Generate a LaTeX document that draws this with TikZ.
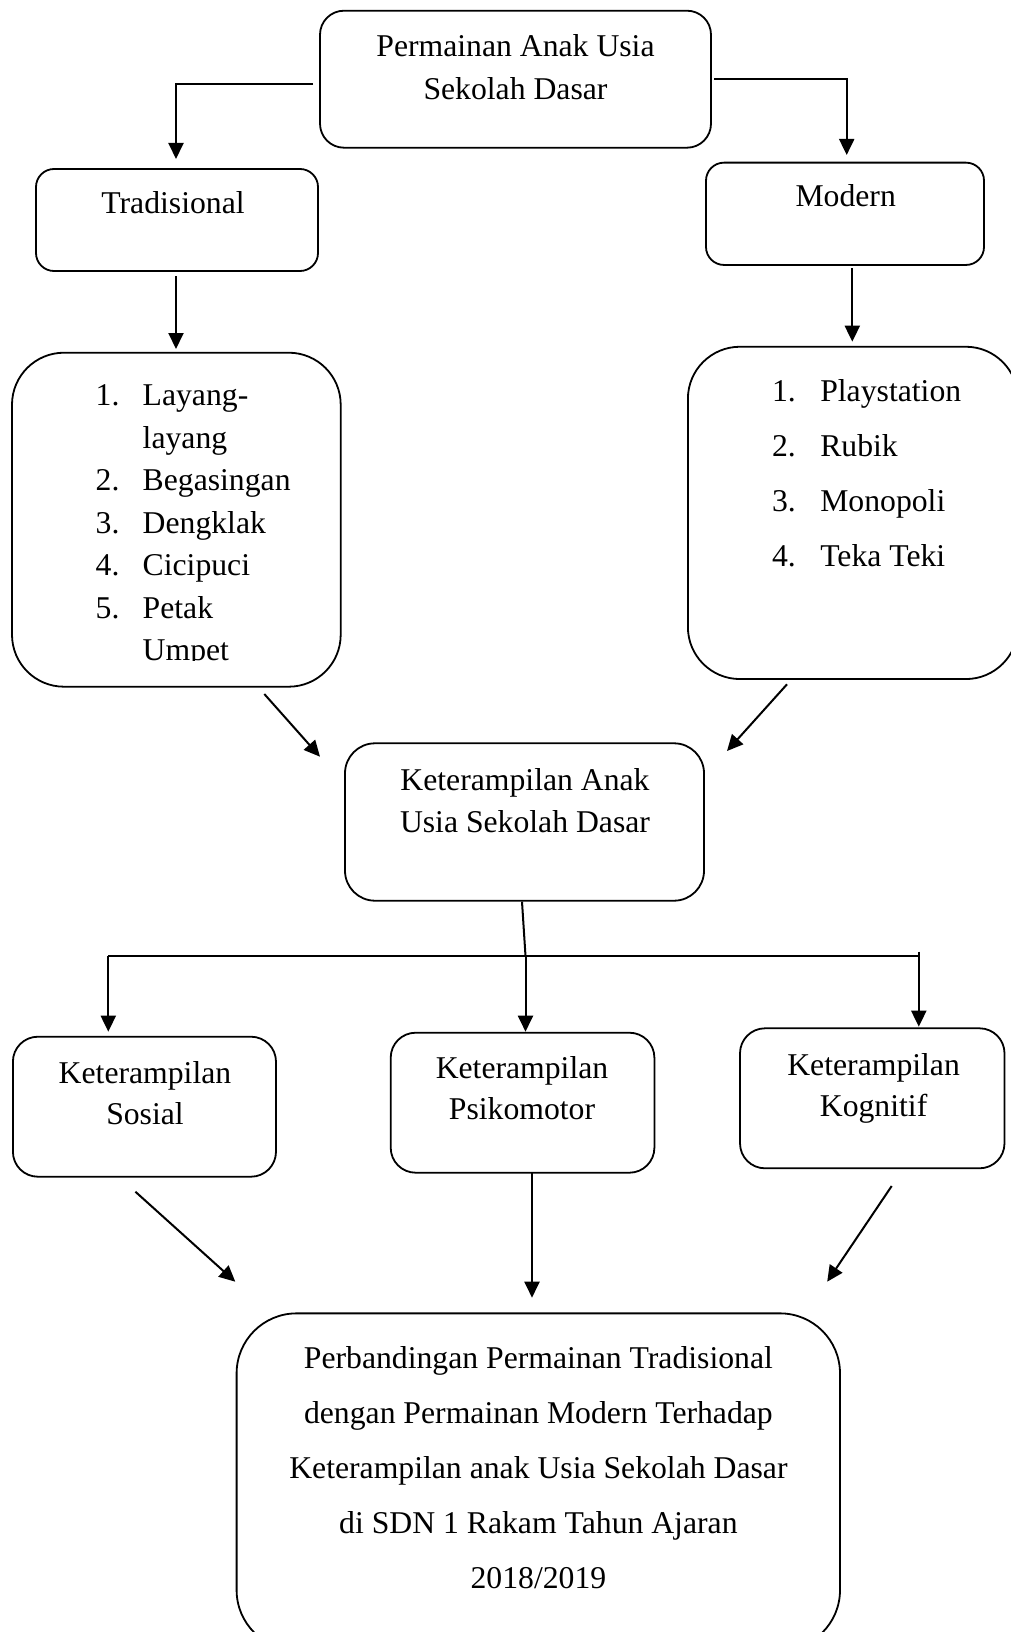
\documentclass[tikz,border=0pt]{standalone}
\usepackage{fontspec}
\setmainfont{Liberation Serif}
\usetikzlibrary{arrows.meta}
\tikzset{
  box/.style={draw=black, line width=1.8pt, rectangle, inner sep=0pt, outer sep=0pt},
  conn/.style={draw=black, line width=2pt, -{Triangle[length=16pt,width=15pt]}},
  plainline/.style={draw=black, line width=2pt},
  txt/.style={inner sep=0pt, outer sep=0pt, anchor=base, font=\fontsize{31.7}{42.5}\selectfont},
  txtw/.style={txt, anchor=base west},
}
\begin{document}
\begin{tikzpicture}[x=1pt, y=-1pt]
\useasboundingbox[fill=white] (0,0) rectangle (1011,1632);

% boxes
\node[box, minimum width=391pt, minimum height=137pt, rounded corners=24pt] (top) at (515.5,79.2) {};
\node[box, minimum width=282pt, minimum height=102pt, rounded corners=18pt] (trad) at (177,220) {};
\node[box, minimum width=278pt, minimum height=102.3pt, rounded corners=18pt] (mod) at (845,213.8) {};
\node[box, minimum width=328.7pt, minimum height=334pt, rounded corners=52pt] (llist) at (176.35,519.7) {};
\node[box, minimum width=330pt, minimum height=332.3pt, rounded corners=52pt] (rlist) at (852.9,512.9) {};
\node[box, minimum width=359pt, minimum height=157.4pt, rounded corners=30pt] (mid) at (524.5,822) {};
\node[box, minimum width=263.1pt, minimum height=140pt, rounded corners=25pt] (sos) at (144.45,1106.7) {};
\node[box, minimum width=263.7pt, minimum height=140pt, rounded corners=25pt] (psi) at (522.55,1102.7) {};
\node[box, minimum width=264.5pt, minimum height=140pt, rounded corners=25pt] (kog) at (872.25,1098.3) {};
\node[box, minimum width=603.4pt, minimum height=336.7pt, rounded corners=60pt] (fin) at (538.3,1481.7) {};

% texts
\node[txt] (toptxt) at (515.5,56.7) {\begin{tabular}[t]{@{}c@{}}Permainan Anak Usia\\Sekolah Dasar\end{tabular}};
\node[txt] (tradtxt) at (173,213) {Tradisional};
\node[txt] (modtxt) at (845.7,207) {Modern};
\begin{scope}
\clip (0,340) rectangle (500,660);
\node[txtw] (lnum) at (95.7,405.7) {\begin{tabular}[t]{@{}l@{}}1.\\ \\2.\\3.\\4.\\5.\\ \end{tabular}};
\node[txtw] (litems) at (142.7,405.7) {\begin{tabular}[t]{@{}l@{}}Layang-\\layang\\Begasingan\\Dengklak\\Cicipuci\\Petak\\Umpet\end{tabular}};
\end{scope}
\node[txtw, font=\fontsize{31.7}{55.2}\selectfont] (rnum) at (772,401) {\begin{tabular}[t]{@{}l@{}}1.\\2.\\3.\\4.\end{tabular}};
\node[txtw, font=\fontsize{31.7}{55.2}\selectfont] (ritems) at (820.3,401) {\begin{tabular}[t]{@{}l@{}}Playstation\\Rubik\\Monopoli\\Teka Teki\end{tabular}};
\node[txt] (midtxt) at (525,790) {\begin{tabular}[t]{@{}c@{}}Keterampilan Anak\\Usia Sekolah Dasar\end{tabular}};
\node[txt, font=\fontsize{31.7}{41.5}\selectfont] (sostxt) at (145,1083.3) {\begin{tabular}[t]{@{}c@{}}Keterampilan\\Sosial\end{tabular}};
\node[txt, font=\fontsize{31.7}{41}\selectfont] (psitxt) at (522,1078.3) {\begin{tabular}[t]{@{}c@{}}Keterampilan\\Psikomotor\end{tabular}};
\node[txt, font=\fontsize{31.7}{41}\selectfont] (kogtxt) at (873.6,1075) {\begin{tabular}[t]{@{}c@{}}Keterampilan\\Kognitif\end{tabular}};
\node[txt, font=\fontsize{31.7}{55}\selectfont] (fintxt) at (538.4,1368.3) {\begin{tabular}[t]{@{}c@{}}Perbandingan Permainan Tradisional\\dengan Permainan Modern Terhadap\\Keterampilan anak Usia Sekolah Dasar\\di SDN 1 Rakam Tahun Ajaran\\2018/2019\end{tabular}};

% connector points
\coordinate (c1a) at (313,84.3);
\coordinate (c1b) at (176,84.3);
\coordinate (c1c) at (176,159);
\coordinate (c2a) at (714,79);
\coordinate (c2b) at (846.7,79);
\coordinate (c2c) at (846.7,155);
\coordinate (c3a) at (176,276);
\coordinate (c3b) at (176,349);
\coordinate (c4a) at (852.3,268);
\coordinate (c4b) at (852.3,341.7);
\coordinate (c5a) at (264.3,694);
\coordinate (c5b) at (320,756.7);
\coordinate (c6a) at (787,684.3);
\coordinate (c6b) at (727,751);
\coordinate (c7a) at (522,901.7);
\coordinate (c7b) at (525.5,956);
\coordinate (hl) at (108.3,956);
\coordinate (hr) at (918.8,956);
\coordinate (hrt) at (918.8,951.7);
\coordinate (d1) at (108.3,1031.7);
\coordinate (d2) at (525.5,1031.7);
\coordinate (d3) at (918.8,1026.7);
\coordinate (e1a) at (135.4,1191.7);
\coordinate (e1b) at (235.3,1281.7);
\coordinate (e2a) at (532,1173.3);
\coordinate (e2b) at (532,1297.7);
\coordinate (e3a) at (891.7,1186);
\coordinate (e3b) at (827.2,1281.7);

\draw[conn] (c1a) -- (c1b) -- (c1c);
\draw[conn] (c2a) -- (c2b) -- (c2c);
\draw[conn] (c3a) -- (c3b);
\draw[conn] (c4a) -- (c4b);
\draw[conn] (c5a) -- (c5b);
\draw[conn] (c6a) -- (c6b);
\draw[plainline] (c7a) -- (c7b);
\draw[plainline] (hl) -- (hr);
\draw[conn] (hl) -- (d1);
\draw[conn] (c7b) -- (d2);
\draw[conn] (hrt) -- (d3);
\draw[conn] (e1a) -- (e1b);
\draw[conn] (e2a) -- (e2b);
\draw[conn] (e3a) -- (e3b);
\end{tikzpicture}
\end{document}
